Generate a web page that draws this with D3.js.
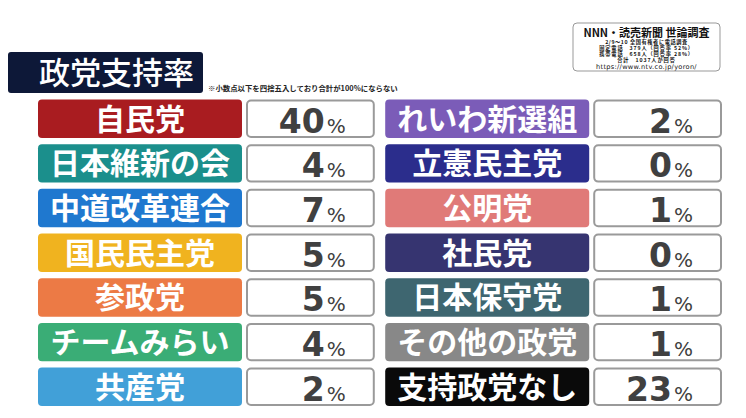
<!DOCTYPE html>
<html><head><meta charset="utf-8">
<script src="https://cdn.jsdelivr.net/npm/d3@7"></script>
<style>
html,body{margin:0;padding:0;background:#fff;}
svg{display:block;font-family:"Noto Sans CJK JP","Noto Sans",sans-serif;}
</style></head>
<body><svg id="c" width="746" height="418"></svg>
<script>
const parties = ["自民党","日本維新の会","中道改革連合","国民民主党","参政党","チームみらい","共産党",
                 "れいわ新選組","立憲民主党","公明党","社民党","日本保守党","その他の政党","支持政党なし"];
const values = [40,4,7,5,5,4,2, 2,0,1,0,1,1,23];
const colors = ["#a91c20","#1b8f8c","#1f78cf","#f0b31f","#ec7a45","#3aad76","#41a0d8",
                "#7b5cb8","#2b2d8c","#e07a78","#363470","#3e6670","#888888","#0a0a0a"];
const title = "政党支持率";
const note = "※小数点以下を四捨五入しており合計が100%にならない";
const sourceLines = ["NNN・読売新聞 世論調査","2/9～10 全国有権者に電話調査","固定電話　379人（回答率 52%）","携帯電話　658人（回答率 28%）","合計　1037人が回答","https://www.ntv.co.jp/yoron/"];

const svg = d3.select("#c");
const perCol = 7;
const rows = d3.scaleBand().domain(d3.range(perCol)).range([99.5, 406]).paddingInner(0.14);
const cols = d3.scaleBand().domain([0,1]).range([38, 722]).paddingInner(0.03);
const labelW = 204, gap = 4;

// title
svg.append("rect").attr("x",8).attr("y",52).attr("width",195).attr("height",41).attr("rx",3).attr("fill","#0d1838");
svg.append("text").attr("x",39).attr("y",84).attr("fill","#fff").attr("font-size",31).attr("font-weight",500).text(title);
svg.append("text").attr("x",208).attr("y",91).attr("fill","#222").attr("font-size",7.4).attr("font-weight",700).text(note);

// source box
svg.append("rect").attr("x",573).attr("y",23).attr("width",147).attr("height",48).attr("rx",4)
  .attr("fill","#fff").attr("stroke","#999").attr("stroke-width",1);
const sy = [36.5,44.4,50.3,56.2,62.1,69], ss=[11,5.2,5.2,5.2,5.2,6.6], sw=[700,700,700,700,700,400];
const sl = [0,0.6,0.9,0.9,0.9,0.3];
const sf = ["Noto Sans CJK JP","Noto Sans CJK JP","Noto Sans CJK JP","Noto Sans CJK JP","Noto Sans CJK JP","DejaVu Sans"];
sourceLines.forEach((t,i)=>{
  svg.append("text").attr("x",646.5).attr("y",sy[i]).attr("text-anchor","middle")
    .attr("font-family",sf[i]).attr("font-size",ss[i]).attr("font-weight",sw[i])
    .attr("letter-spacing",sl[i]).attr("fill","#111").text(t);
});

const data = parties.map((p,i)=>({p, v:values[i], c:colors[i], col: Math.floor(i/perCol), row: i%perCol}));
const g = svg.selectAll("g.item").data(data).join("g").attr("class","item")
  .attr("transform",d=>`translate(${cols(d.col)},${rows(d.row)})`);
const bh = rows.bandwidth();
g.append("rect").attr("width",labelW).attr("height",bh).attr("rx",4).attr("fill",d=>d.c);
g.append("text").attr("x",labelW/2).attr("y",bh/2+10.8).attr("text-anchor","middle")
  .attr("fill","#fff").attr("font-size",30).attr("font-weight",600).text(d=>d.p);
const vw = cols.bandwidth()-labelW-gap;
g.append("rect").attr("x",labelW+gap+1).attr("y",1).attr("width",vw-2).attr("height",bh-2).attr("rx",4)
  .attr("fill","#fff").attr("stroke","#9a9a9a").attr("stroke-width",2);
const vt = g.append("text").attr("x",labelW+gap+vw-29).attr("y",bh/2+14).attr("text-anchor","end")
  .attr("fill","#404040").attr("font-family","DejaVu Sans");
vt.append("tspan").attr("font-size",33).attr("font-weight",700).text(d=>d.v);
vt.append("tspan").attr("font-size",20).attr("font-weight",400).attr("dx",2).text("%");
</script></body></html>
